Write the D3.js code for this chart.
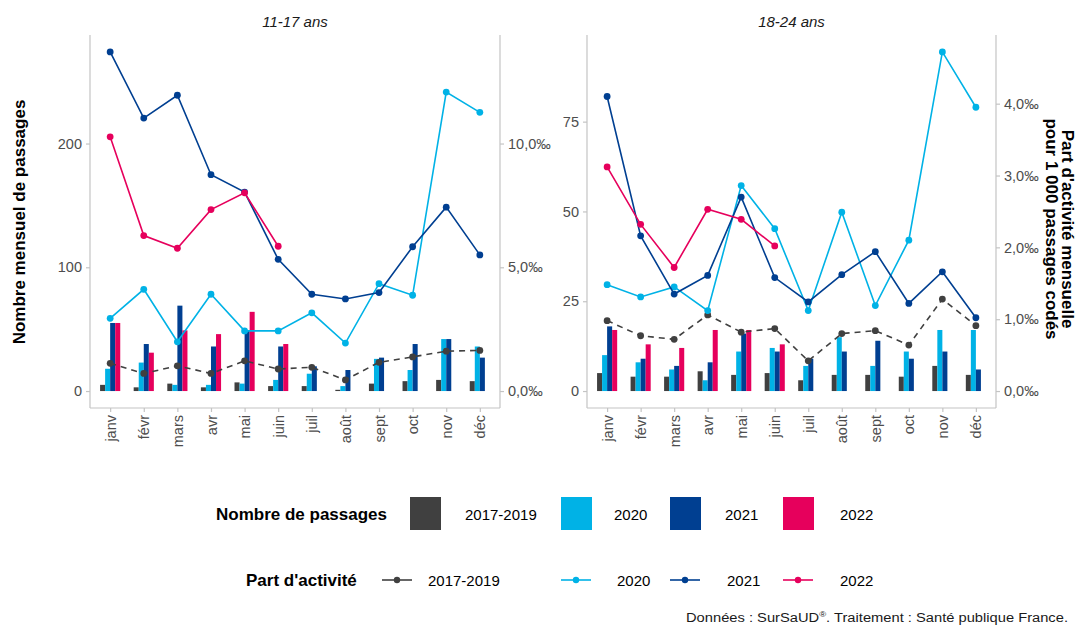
<!DOCTYPE html>
<html>
<head>
<meta charset="utf-8">
<script src="https://cdn.jsdelivr.net/npm/d3@7"></script>
<style>
  body { margin: 0; background: #fff; }
  text { font-family: "Liberation Sans", Arial, sans-serif; }
</style>
</head>
<body>
<div id="chart"></div>
<script>
// categories
const months = ["janv", "févr", "mars", "avr", "mai", "juin", "juil", "août", "sept", "oct", "nov", "déc"];
const years = ["2017-2019", "2020", "2021", "2022"];
const colors = ["#404040", "#00b2e6", "#003f91", "#e6005c"];

// 11-17 ans : nombre mensuel de passages
const pass1117_2017 = [5, 3, 6, 3, 7, 4, 4, 1, 6, 8, 9, 8];
const pass1117_2020 = [18, 23, 5, 5, 6, 9, 14, 4, 26, 17, 42, 36];
const pass1117_2021 = [55, 38, 69, 36, 49, 36, 20, 17, 27, 38, 42, 27];
const pass1117_2022 = [55, 31, 49, 46, 64, 38];
// 11-17 ans : part d'activité (pour 1 000)
const part1117_2017 = [1.12, 0.71, 1.02, 0.71, 1.22, 0.89, 0.96, 0.45, 1.16, 1.38, 1.61, 1.64];
const part1117_2020 = [2.94, 4.11, 1.99, 3.91, 2.43, 2.43, 3.16, 1.94, 4.34, 3.87, 12.08, 11.26];
const part1117_2021 = [13.70, 11.03, 11.95, 8.74, 8.04, 5.32, 3.91, 3.72, 3.98, 5.83, 7.43, 5.50];
const part1117_2022 = [10.27, 6.28, 5.77, 7.33, 8.01, 5.85];

// 18-24 ans : nombre mensuel de passages
const pass1824_2017 = [5, 4, 4, 5.5, 4.5, 5, 3, 4.5, 4.5, 4, 7, 4.5];
const pass1824_2020 = [10, 8, 6, 3, 11, 12, 7, 15, 7, 11, 17, 17];
const pass1824_2021 = [18, 9, 7, 8, 16, 11, 9, 11, 14, 9, 11, 6];
const pass1824_2022 = [17, 13, 12, 17, 17, 13];
// 18-24 ans : part d'activité (pour 1 000)
const part1824_2017 = [0.98, 0.77, 0.72, 1.06, 0.82, 0.87, 0.42, 0.80, 0.84, 0.64, 1.28, 0.91];
const part1824_2020 = [1.48, 1.31, 1.45, 1.12, 2.86, 2.26, 1.12, 2.49, 1.19, 2.10, 4.72, 3.95];
const part1824_2021 = [4.10, 2.16, 1.35, 1.61, 2.70, 1.58, 1.24, 1.62, 1.94, 1.22, 1.66, 1.02];
const part1824_2022 = [3.12, 2.32, 1.72, 2.53, 2.39, 2.02];

// tick values
const leftTicks1117 = [0, 100, 200];
const rightTicks1117 = [0, 5, 10];
const leftTicks1824 = [0, 25, 50, 75];
const rightTicks1824 = [0, 1, 2, 3, 4];

// secondary axis: 1 per mille = 20 passages
const ratio = 20;

const panels = [
  { title: "11-17 ans", x0: 90, x1: 500,
    bars: [pass1117_2017, pass1117_2020, pass1117_2021, pass1117_2022],
    lines: [part1117_2017, part1117_2020, part1117_2021, part1117_2022],
    lt: leftTicks1117, rt: rightTicks1117 },
  { title: "18-24 ans", x0: 587, x1: 996,
    bars: [pass1824_2017, pass1824_2020, pass1824_2021, pass1824_2022],
    lines: [part1824_2017, part1824_2020, part1824_2021, part1824_2022],
    lt: leftTicks1824, rt: rightTicks1824 }
];

const W = 1076, H = 627;
const yTop = 35, yBottom = 408;
const axisColor = "#c4c4c4";
const tickText = "#4d4d4d";

const svg = d3.select("#chart").append("svg")
  .attr("width", W).attr("height", H)
  .style("background", "#fff");

function styleAxis(g) {
  g.select(".domain").attr("stroke", axisColor).attr("stroke-width", 1.2);
  g.selectAll(".tick line").attr("stroke", axisColor).attr("stroke-width", 1.2);
  g.selectAll(".tick text").attr("fill", tickText)
    .style("font-size", "14.5px").style("font-family", "Liberation Sans, Arial, sans-serif");
}

const fmtPm = d => d3.format(".1f")(d).replace(".", ",") + "‰";

panels.forEach(p => {
  const allVals = p.bars.flat().concat(p.lines.flat().map(v => v * ratio));
  const M = d3.max(allVals);

  const x = d3.scalePoint().domain(months).range([p.x0, p.x1]).padding(0.6);
  const y = d3.scaleLinear().domain([-0.05 * M, 1.05 * M]).range([yBottom, yTop]);
  const y2 = d3.scaleLinear().domain([-0.05 * M / ratio, 1.05 * M / ratio]).range([yBottom, yTop]);

  const groupW = x.step() * 0.6;
  const barW = groupW / years.length;

  const g = svg.append("g");

  // bars
  p.bars.forEach((serie, k) => {
    g.append("g").selectAll("rect")
      .data(serie)
      .join("rect")
      .attr("x", (d, i) => x(months[i]) - groupW / 2 + k * barW)
      .attr("y", d => y(d))
      .attr("width", barW)
      .attr("height", d => y(0) - y(d))
      .attr("fill", colors[k]);
  });

  // lines
  const line = d3.line()
    .x((d, i) => x(months[i]))
    .y(d => y2(d));

  p.lines.forEach((serie, k) => {
    g.append("path")
      .datum(serie)
      .attr("d", line)
      .attr("fill", "none")
      .attr("stroke", colors[k])
      .attr("stroke-width", 1.6)
      .attr("stroke-dasharray", k === 0 ? "6,5" : null);
    g.append("g").selectAll("circle")
      .data(serie)
      .join("circle")
      .attr("cx", (d, i) => x(months[i]))
      .attr("cy", d => y2(d))
      .attr("r", 3.4)
      .attr("fill", colors[k]);
  });

  // axes
  const ya = g.append("g").attr("transform", `translate(${p.x0},0)`)
    .call(d3.axisLeft(y).tickValues(p.lt).tickSize(4).tickPadding(4).tickSizeOuter(0));
  styleAxis(ya);
  ya.select(".domain").attr("d", `M0,${yTop}V${yBottom}`);

  const y2a = g.append("g").attr("transform", `translate(${p.x1},0)`)
    .call(d3.axisRight(y2).tickValues(p.rt).tickFormat(fmtPm).tickSize(4).tickPadding(4).tickSizeOuter(0));
  styleAxis(y2a);
  y2a.select(".domain").attr("d", `M0,${yTop}V${yBottom}`);

  const xa = g.append("g").attr("transform", `translate(0,${yBottom})`)
    .call(d3.axisBottom(x).tickSize(4).tickSizeOuter(0));
  styleAxis(xa);
  xa.select(".domain").attr("d", `M${p.x0},0H${p.x1}`);
  xa.selectAll(".tick text")
    .attr("transform", "rotate(-90)")
    .attr("text-anchor", "end")
    .attr("x", -7)
    .attr("y", 0)
    .attr("dy", "0.35em");

  // panel title
  svg.append("text")
    .attr("x", (p.x0 + p.x1) / 2)
    .attr("y", 27)
    .attr("text-anchor", "middle")
    .style("font-size", "15px")
    .style("font-style", "italic")
    .attr("fill", "#1a1a1a")
    .text(p.title);
});

// axis titles
svg.append("text")
  .attr("transform", "translate(25,222) rotate(-90)")
  .attr("text-anchor", "middle")
  .style("font-size", "17px").style("font-weight", "bold")
  .text("Nombre mensuel de passages");

const rt = svg.append("g").attr("transform", "translate(1062,229) rotate(90)");
rt.append("text").attr("text-anchor", "middle").attr("y", 0)
  .style("font-size", "17px").style("font-weight", "bold")
  .text("Part d'activité mensuelle");
rt.append("text").attr("text-anchor", "middle").attr("y", 16)
  .style("font-size", "17px").style("font-weight", "bold")
  .text("pour 1 000 passages codés");

// legend: bars
const keyX = [410, 561, 670, 783];
const labX = [465, 614, 725, 840];

svg.append("text").attr("x", 216).attr("y", 520)
  .style("font-size", "17px").style("font-weight", "bold")
  .text("Nombre de passages");
svg.append("g").selectAll("rect").data(years).join("rect")
  .attr("x", (d, i) => keyX[i]).attr("y", 497)
  .attr("width", 31).attr("height", 33)
  .attr("fill", (d, i) => colors[i]);
svg.append("g").selectAll("text").data(years).join("text")
  .attr("x", (d, i) => labX[i]).attr("y", 520)
  .style("font-size", "15px")
  .text(d => d);

// legend: lines
svg.append("text").attr("x", 246).attr("y", 586)
  .style("font-size", "17px").style("font-weight", "bold")
  .text("Part d'activité");
const lkX = [382, 561, 670, 783];
const llX = [428, 617, 727, 840];
const lg = svg.append("g");
years.forEach((yr, i) => {
  lg.append("line")
    .attr("x1", lkX[i]).attr("x2", lkX[i] + 30)
    .attr("y1", 580).attr("y2", 580)
    .attr("stroke", colors[i]).attr("stroke-width", 1.6);
  lg.append("circle")
    .attr("cx", lkX[i] + 15).attr("cy", 580).attr("r", 3.2)
    .attr("fill", colors[i]);
  lg.append("text")
    .attr("x", llX[i]).attr("y", 586)
    .style("font-size", "15px")
    .text(yr);
});

// source
const src = svg.append("text").attr("x", 686).attr("y", 622)
  .attr("textLength", 382).attr("lengthAdjust", "spacingAndGlyphs")
  .style("font-size", "12.5px").attr("fill", "#1a1a1a");
src.append("tspan").text("Données : SurSaUD");
src.append("tspan").attr("dy", -5).style("font-size", "8px").text("®");
src.append("tspan").attr("dy", 5).text(". Traitement : Santé publique France.");
</script>
</body>
</html>
